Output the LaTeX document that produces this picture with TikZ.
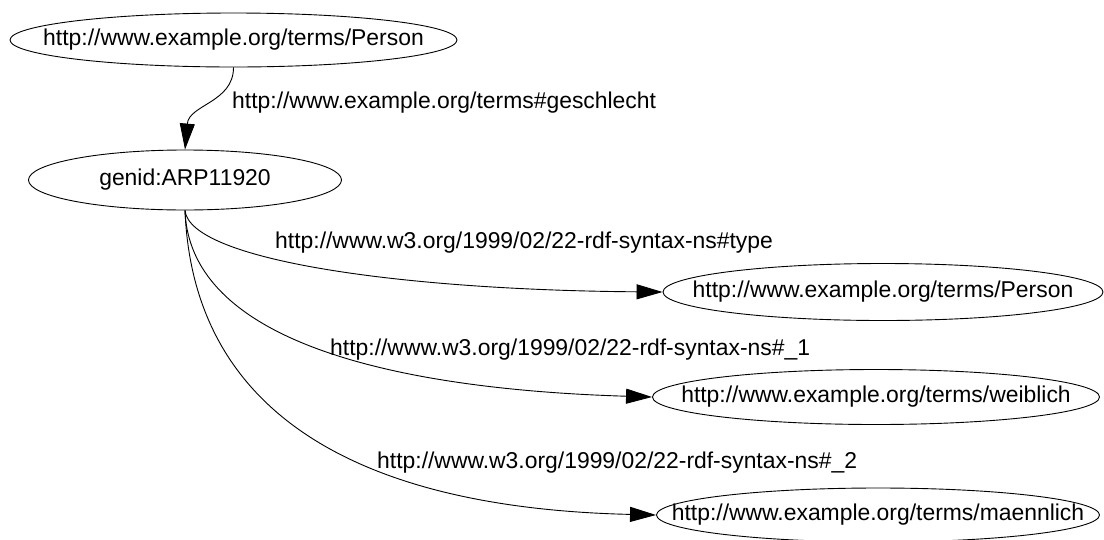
\documentclass[tikz,border=0pt]{standalone}
\usepackage{fontspec}
\setmainfont{Liberation Sans}
\usetikzlibrary{shapes.geometric,arrows.meta}

\tikzset{
  txt/.style={font=\fontsize{22.9}{27}\selectfont, inner sep=0pt},
  res/.style={draw, ellipse, inner sep=0pt, line width=0.9pt,
    label={[txt]center:#1}},
  prop/.style={txt, anchor=west},
  link/.style={draw, line width=0.9pt,
    -{Triangle[length=26pt,width=15pt]}},
}

\begin{document}
\begin{tikzpicture}[x=1pt,y=-1pt]
  \useasboundingbox (0,0) rectangle (1104,539);
  \clip (0,0) rectangle (1104,539);

  % resources
  \node[res={http://www.example.org/terms/Person},   minimum width=447pt, minimum height=54pt] (person) at (233.5,40) {};
  \node[res={genid:ARP11920},                        minimum width=313pt, minimum height=60pt] (genid)  at (185,180)  {};
  \node[res={http://www.example.org/terms/Person},   minimum width=440pt, minimum height=57pt] (ptype)  at (883,292)  {};
  \node[res={http://www.example.org/terms/weiblich}, minimum width=447pt, minimum height=55pt] (weib)   at (876,397)  {};
  \node[res={http://www.example.org/terms/maennlich},minimum width=443pt, minimum height=54pt] (maenn)  at (878,515)  {};

  % properties
  \node[prop] (lgeschl) at (232,103) {http://www.example.org/terms\#geschlecht};
  \node[prop] (ltype)   at (275,243) {http://www.w3.org/1999/02/22-rdf-syntax-ns\#type};
  \node[prop] (lone)    at (330,350) {http://www.w3.org/1999/02/22-rdf-syntax-ns\#\_1};
  \node[prop] (ltwo)    at (377,463) {http://www.w3.org/1999/02/22-rdf-syntax-ns\#\_2};

  % statements
  \path[link] (person.south) .. controls +(0,35) and +(4,-45) .. (genid.north);
  \path[link] (genid.south) .. controls (190,260) and (400,290) .. (ptype.west);
  \path[link] (genid.south) .. controls (190,350) and (420,390) .. (weib.west);
  \path[link] (genid.south) .. controls (195,460) and (440,510) .. (maenn.west);
\end{tikzpicture}
\end{document}
